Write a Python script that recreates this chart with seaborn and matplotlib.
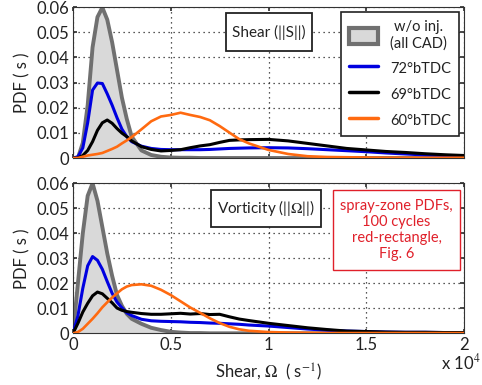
import matplotlib
matplotlib.use("Agg")
import matplotlib.pyplot as plt
from matplotlib.patches import Patch, Rectangle
from matplotlib.lines import Line2D
import seaborn as sns

# Shear / vorticity magnitude (x 1e4 1/s)
omega = [0, 0.025, 0.05, 0.075, 0.1, 0.125, 0.15, 0.175, 0.2, 0.225, 0.25, 0.275,
         0.3, 0.35, 0.4, 0.45, 0.5, 0.55, 0.6, 0.65, 0.7, 0.75, 0.8, 0.85, 0.9,
         1.0, 1.1, 1.2, 1.3, 1.4, 1.5, 1.6, 1.7, 1.8, 1.9, 2.0]

# Shear PDFs
shear_base = [0, 0, 0.006, 0.021, 0.044, 0.056, 0.0598, 0.055, 0.046, 0.035, 0.024, 0.0155,
              0.0085, 0.003, 0.0012, 0.0005, 0.0002, 0.0001, 0.0001, 0, 0, 0, 0, 0, 0,
              0, 0, 0, 0, 0, 0, 0, 0, 0, 0, 0]
shear_72 = [0, 0.0005, 0.004, 0.014, 0.027, 0.0298, 0.0296, 0.0255, 0.021, 0.016, 0.0115, 0.0085,
            0.0065, 0.0047, 0.0038, 0.0034, 0.0033, 0.0033, 0.0033, 0.0033, 0.0034, 0.0036, 0.0038, 0.0039, 0.004,
            0.0041, 0.004, 0.0037, 0.0033, 0.0029, 0.0025, 0.002, 0.0016, 0.0012, 0.001, 0.0008]
shear_69 = [0, 0, 0.001, 0.003, 0.0065, 0.011, 0.014, 0.0151, 0.0138, 0.0117, 0.0099, 0.0085,
            0.0068, 0.0045, 0.0034, 0.0028, 0.003, 0.0033, 0.0041, 0.0048, 0.0053, 0.0062, 0.007, 0.0072, 0.0073,
            0.0074, 0.0068, 0.0058, 0.0048, 0.0038, 0.0032, 0.0026, 0.0022, 0.0017, 0.0013, 0.001]
shear_60 = [0, 0, 0.0005, 0.001, 0.0013, 0.0016, 0.002, 0.0028, 0.0036, 0.0045, 0.0058, 0.007,
            0.0083, 0.0114, 0.0146, 0.0165, 0.0171, 0.018, 0.0171, 0.0163, 0.015, 0.0127, 0.0101, 0.0075, 0.0058,
            0.0032, 0.0016, 0.0007, 0.0004, 0.0003, 0.0002, 0.0001, 0.0001, 0.0001, 0.0001, 0.0001]

# Vorticity PDFs
vort_base = [0, 0.02, 0.04, 0.055, 0.06, 0.053, 0.0425, 0.032, 0.023, 0.0153, 0.011, 0.0078,
             0.0058, 0.0038, 0.0022, 0.0013, 0.0006, 0.0003, 0.0001, 0.0001, 0, 0, 0, 0, 0,
             0, 0, 0, 0, 0, 0, 0, 0, 0, 0, 0]
vort_72 = [0, 0.007, 0.018, 0.027, 0.0307, 0.0292, 0.0256, 0.0207, 0.016, 0.0125, 0.0102, 0.0082,
           0.0071, 0.0056, 0.005, 0.0048, 0.0047, 0.0046, 0.0044, 0.0043, 0.0041, 0.004, 0.0038, 0.0036, 0.0033,
           0.0029, 0.0023, 0.0017, 0.0012, 0.0009, 0.0007, 0.0005, 0.0004, 0.0004, 0.0003, 0.0003]
vort_69 = [0, 0.004, 0.0085, 0.012, 0.015, 0.0165, 0.0158, 0.014, 0.0122, 0.0101, 0.0092, 0.0087,
           0.0084, 0.0079, 0.0076, 0.0076, 0.0078, 0.008, 0.0077, 0.0079, 0.0075, 0.0076, 0.0066, 0.0057, 0.0051,
           0.004, 0.0031, 0.0022, 0.0015, 0.0009, 0.0007, 0.0005, 0.0004, 0.0004, 0.0003, 0.0003]
vort_60 = [0, 0.0005, 0.0018, 0.0038, 0.0058, 0.008, 0.0104, 0.0124, 0.0143, 0.016, 0.0176, 0.0187,
           0.0193, 0.0196, 0.019, 0.0174, 0.0153, 0.0128, 0.0103, 0.0082, 0.006, 0.0041, 0.0026, 0.0016, 0.001,
           0.0005, 0.0003, 0.0002, 0.0001, 0.0001, 0.0001, 0.0001, 0.0001, 0.0001, 0.0001, 0.0001]

labels = ["w/o inj.\n(all CAD)", "72°bTDC", "69°bTDC", "60°bTDC"]
x_ticks = [0, 0.5, 1, 1.5, 2]
x_ticklabels = ["0", "0.5", "1", "1.5", "2"]
y_ticks = [0, 0.01, 0.02, 0.03, 0.04, 0.05, 0.06]
y_ticklabels = ["0", "0.01", "0.02", "0.03", "0.04", "0.05", "0.06"]

sns.set_theme(style="white")
plt.rcParams["font.family"] = ["Lato", "DejaVu Sans"]
plt.rcParams["mathtext.fontset"] = "stix"
plt.rcParams["axes.edgecolor"] = "#333333"
plt.rcParams["axes.linewidth"] = 0.8

c_base_edge = "#707070"
c_base_fill = "#d9d9d9"
c_72 = "#0000e0"
c_69 = "#000000"
c_60 = "#ff6a10"
red = "#e0202a"
ink = "#222222"
fs = 12

fig = plt.figure(figsize=(4.82, 3.85), dpi=100)
ax1 = fig.add_axes([0.1515, 0.5896, 0.8112, 0.3922])
ax2 = fig.add_axes([0.1515, 0.1343, 0.8112, 0.3896])


def draw_panel(ax, base, s72, s69, s60):
    ax.fill_between(omega, base, 0, color=c_base_fill, lw=0, zorder=1)
    sns.lineplot(x=omega, y=base, ax=ax, color=c_base_edge, lw=2.8, zorder=2)
    sns.lineplot(x=omega, y=s72, ax=ax, color=c_72, lw=2.2, zorder=3)
    sns.lineplot(x=omega, y=s69, ax=ax, color=c_69, lw=2.2, zorder=4)
    sns.lineplot(x=omega, y=s60, ax=ax, color=c_60, lw=1.9, zorder=5)
    ax.set_xlim(0, 2)
    ax.set_ylim(0, 0.06)
    ax.set_xticks(x_ticks)
    ax.set_yticks(y_ticks)
    ax.set_yticklabels(y_ticklabels, fontsize=fs, color=ink)
    ax.grid(True, linestyle=(0, (1, 3)), color=ink, lw=0.9)
    ax.tick_params(direction="in", length=3, top=True, right=True, bottom=True, left=True,
                   color="#333333", pad=3)
    ax.set_ylabel("PDF ( s )", fontsize=fs, color=ink, labelpad=4)
    ax.set_xlabel("")


def boxed_text(ax, x0, y0, x1, y1, text, color, size, lw):
    ax.add_patch(Rectangle((x0, y0), x1 - x0, y1 - y0, transform=ax.transAxes,
                           fc="white", ec=color, lw=lw, zorder=10))
    ax.text((x0 + x1) / 2, (y0 + y1) / 2, text, transform=ax.transAxes, ha="center",
            va="center", fontsize=size, color=color, zorder=11, linespacing=1.2)


draw_panel(ax1, shear_base, shear_72, shear_69, shear_60)
draw_panel(ax2, vort_base, vort_72, vort_69, vort_60)
ax1.set_xticklabels([])
ax2.set_xticklabels(x_ticklabels, fontsize=fs, color=ink)
ax2.set_xlabel(r"Shear, $\Omega$  ( s$^{-1}$)", fontsize=fs, color=ink, labelpad=6)

boxed_text(ax1, 0.391, 0.709, 0.611, 0.960, "Shear (||S||)", ink, 11, 1.3)
boxed_text(ax2, 0.353, 0.709, 0.634, 0.955, r"Vorticity (||$\Omega$||)", ink, 11, 1.3)
boxed_text(ax2, 0.665, 0.422, 0.990, 0.955, "spray-zone PDFs,\n100 cycles\nred-rectangle,\nFig. 6",
           red, 10.5, 1.0)

handles = [
    Patch(facecolor=c_base_fill, edgecolor=c_base_edge, lw=3),
    Line2D([], [], color=c_72, lw=2.5),
    Line2D([], [], color=c_69, lw=2.5),
    Line2D([], [], color=c_60, lw=2.5),
]
leg = ax1.legend(handles, labels, loc="upper right", bbox_to_anchor=(0.987, 0.967), fontsize=10.5,
                 frameon=True, fancybox=False, edgecolor=ink, framealpha=1,
                 handlelength=2.0, handleheight=1.4, handletextpad=0.8, labelspacing=0.62,
                 borderpad=0.55, borderaxespad=0)
leg.get_frame().set_linewidth(1.2)
leg.set_zorder(12)
for t in leg.get_texts():
    t.set_color(ink)
    t.set_multialignment("center")

fig.text(0.998, 0.058, r"x 10$^{4}$", fontsize=fs, color=ink, ha="right", va="center")

fig.savefig("out.png", dpi=100)
